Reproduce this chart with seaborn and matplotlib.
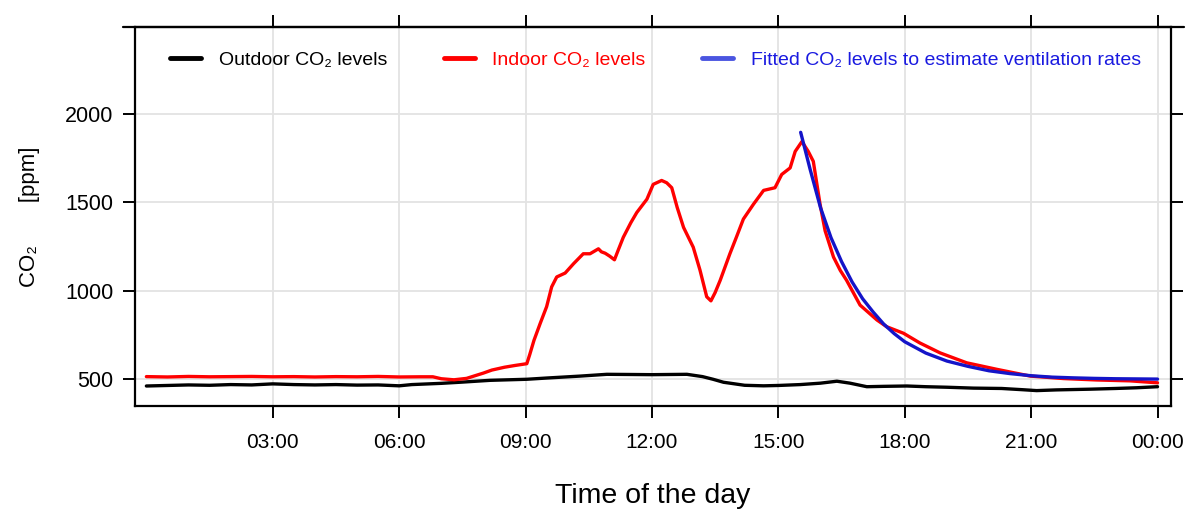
import matplotlib
matplotlib.use("Agg")
import matplotlib.pyplot as plt
from matplotlib.lines import Line2D
import seaborn as sns
import pandas as pd

# ---------------- data ----------------
indoor_hours = [0.0, 0.5, 1.0, 1.5, 2.0, 2.5, 3.0, 3.5, 4.0, 4.5, 5.0, 5.5, 6.0, 6.5, 6.8,
                7.0, 7.3, 7.6, 8.0, 8.2, 8.5, 8.75, 9.03, 9.1, 9.2, 9.35, 9.5, 9.62, 9.74,
                9.94, 10.14, 10.37, 10.53, 10.73, 10.8, 10.89, 11.0, 11.11, 11.2, 11.32,
                11.5, 11.64, 11.88, 12.03, 12.23, 12.35, 12.47, 12.6, 12.75, 12.98, 13.14,
                13.3, 13.4, 13.5, 13.62, 13.85, 14.0, 14.17, 14.41, 14.65, 14.92, 15.08,
                15.28, 15.40, 15.56, 15.71, 15.83, 15.99, 16.11, 16.31, 16.47, 16.62,
                16.94, 17.34, 17.57, 17.97, 18.36, 18.84, 19.47, 20.19, 20.98, 21.77,
                22.56, 23.35, 24.0]
indoor_ppm = [515, 513, 516, 514, 515, 516, 514, 515, 513, 515, 514, 516, 513, 514, 514,
              503, 497, 505, 535, 552, 568, 578, 588, 640, 720, 817, 910, 1022, 1078,
              1100, 1153, 1209, 1209, 1237, 1220, 1212, 1195, 1175, 1230, 1302,
              1385, 1442, 1517, 1601, 1623, 1610, 1582, 1470, 1358, 1246, 1117,
              966, 943, 990, 1059, 1209, 1300, 1405, 1489, 1567, 1582, 1657,
              1694, 1787, 1843, 1787, 1731, 1489, 1339, 1190, 1115, 1059,
              919, 835, 797, 760, 705, 649, 593, 556, 518, 504,
              496, 491, 480]

outdoor_hours = [0.0, 0.5, 1.0, 1.5, 2.0, 2.5, 3.0, 3.5, 4.0, 4.5, 5.0, 5.5, 6.0, 6.3, 7.0,
                 7.5, 8.16, 9.03, 9.5, 10.3, 10.93, 11.5, 12.0, 12.83, 13.2, 13.45, 13.7,
                 13.85, 14.2, 14.65, 15.0, 15.52, 16.0, 16.39, 16.7, 17.1, 17.5, 18.05,
                 18.5, 19.0, 19.63, 20.3, 20.8, 21.13, 21.6, 22.4, 23.0, 23.5, 24.0]
outdoor_ppm = [462, 465, 468, 466, 470, 468, 474, 470, 468, 470, 467, 468, 463, 470, 477,
               484, 494, 500, 507, 518, 528, 527, 526, 528, 515, 500, 483,
               478, 466, 463, 465, 470, 478, 489, 478, 458, 460, 462,
               458, 455, 450, 448, 441, 436, 440, 444, 448, 452, 458]

fitted_hours = [15.53, 15.75, 16.0, 16.25, 16.5, 16.75, 17.0, 17.25, 17.5, 17.75, 18.0,
                18.5, 19.0, 19.5, 20.0, 20.5, 21.0, 21.5, 22.0, 22.5, 23.0, 23.5, 24.0]
fitted_ppm = [1895, 1690, 1470, 1300, 1165, 1050, 955, 880, 812, 758, 712,
              648, 603, 573, 548, 532, 520, 512, 508, 505, 503, 502, 501]

tick_hours = [3, 6, 9, 12, 15, 18, 21, 24]
tick_labels = ["03:00", "06:00", "09:00", "12:00", "15:00", "18:00", "21:00", "00:00"]
y_ticks = [500, 1000, 1500, 2000]

legend_labels = ["Outdoor CO\u2082 levels", "Indoor CO\u2082 levels",
                 "Fitted CO\u2082 levels to estimate ventilation rates"]

# ---------------- style ----------------
sns.set_theme(style="white")
plt.rcParams["font.family"] = ["Liberation Sans", "DejaVu Sans"]
plt.rcParams["text.color"] = "black"
plt.rcParams["axes.labelcolor"] = "black"
plt.rcParams["xtick.color"] = "black"
plt.rcParams["ytick.color"] = "black"

W, H = 1189, 511
fig = plt.figure(figsize=(W / 100, H / 100), dpi=100)
L, R, T, B = 135, 1171, 27, 406
ax = fig.add_axes([L / W, 1 - B / H, (R - L) / W, (B - T) / H])

df_out = pd.DataFrame({"h": outdoor_hours, "ppm": outdoor_ppm})
df_in = pd.DataFrame({"h": indoor_hours, "ppm": indoor_ppm})
df_fit = pd.DataFrame({"h": fitted_hours, "ppm": fitted_ppm})

sns.lineplot(data=df_out, x="h", y="ppm", ax=ax, color="black", lw=2.4,
             estimator=None, sort=False, label=legend_labels[0])
sns.lineplot(data=df_in, x="h", y="ppm", ax=ax, color="#ff0000", lw=2.4,
             estimator=None, sort=False, label=legend_labels[1])
sns.lineplot(data=df_fit, x="h", y="ppm", ax=ax, color="#1414c8", lw=2.4,
             estimator=None, sort=False, label=legend_labels[2])

ax.set_xlim(-0.27, 24.32)
ax.set_ylim(349, 2490)
ax.set_xticks(tick_hours)
ax.set_xticklabels(tick_labels)
ax.set_yticks(y_ticks)

ax.grid(True, color="#e3e3e3", lw=1.3)
ax.set_axisbelow(True)

for s in ax.spines.values():
    s.set_color("black")
    s.set_linewidth(1.6)

ax.tick_params(axis="both", which="major", direction="out", length=8.5, width=1.4,
               color="black", labelcolor="black", bottom=True, left=True, top=True,
               right=True, labeltop=False, labelright=False)
ax.tick_params(axis="x", pad=11, labelsize=15)
ax.tick_params(axis="y", pad=7, labelsize=15.5)

ax.set_xlabel("Time of the day", fontsize=20.5, labelpad=22, color="black")
ax.set_ylabel("CO\u2082       [ppm]", fontsize=16, labelpad=18, color="black")

leg = ax.legend(loc="center", bbox_to_anchor=(0.5024, 1 - 33 / (B - T)), ncol=3,
                frameon=False, fontsize=14, handlelength=1.6, handletextpad=0.9,
                columnspacing=2.9, labelcolor=["black", "#ff0000", "#1a1ae0"])
for line, c in zip(leg.get_lines(), ["black", "#ff0000", "#4a55e0"]):
    line.set_color(c)
    line.set_linewidth(3.5)

# top border of the reference extends past the frame on both sides
fig.add_artist(Line2D([123 / W, 1184 / W], [1 - T / H, 1 - T / H],
                      color="black", lw=1.6))

fig.savefig("out.png", dpi=100)
